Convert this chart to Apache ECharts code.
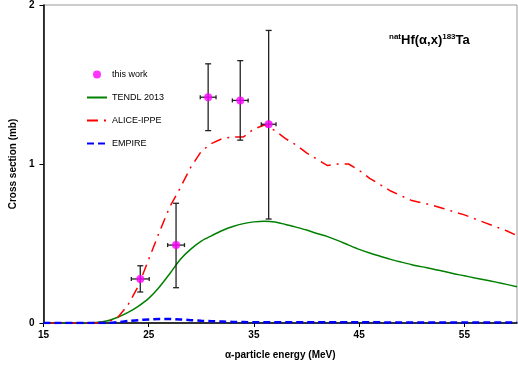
<!DOCTYPE html>
<html>
<head>
<meta charset="utf-8">
<script src="https://cdn.jsdelivr.net/npm/echarts@6/dist/echarts.min.js"></script>
<style>
  html, body { margin: 0; padding: 0; background: #fff; }
  #chart { width: 518px; height: 371px; }
</style>
</head>
<body>
<div id="chart"></div>
<script>
// energy grid for model curves (MeV)
var energies = [15,16,17,18,19,20,21,22,23,24,25,26,27,28,29,30,31,32,33,34,35,36,37,38,39,40,
                41,42,43,44,45,46,47,48,49,50,51,52,53,54,55,56,57,58,59,60];
var tendl = [0,0,0,0,0,0.003,0.012,0.035,0.065,0.105,0.155,0.225,0.31,0.40,0.465,0.515,0.55,0.582,0.607,0.625,0.636,0.64,
             0.635,0.62,0.603,0.585,0.563,0.543,0.518,0.49,0.463,0.44,0.42,0.40,0.383,0.367,0.353,0.34,0.325,0.31,0.297,0.283,0.27,0.257,0.243,0.228];
var alice = [0,0,0,0,0,0,0.005,0.03,0.11,0.23,0.40,0.57,0.73,0.85,0.98,1.08,1.13,1.16,1.17,1.17,1.22,1.245,
             1.21,1.16,1.12,1.07,1.03,0.99,1.0,1.0,0.96,0.91,0.87,0.83,0.80,0.77,0.755,0.74,0.72,0.70,0.68,0.655,0.63,0.605,0.58,0.55];
var empire = [0,0,0,0,0,0,0,0.005,0.012,0.018,0.022,0.025,0.025,0.022,0.018,0.014,0.011,0.009,0.007,0.006,0.005,0.005,
              0.005,0.004,0.004,0.004,0.004,0.004,0.004,0.004,0.004,0.004,0.004,0.003,0.003,0.003,0.003,0.003,0.003,0.003,0.003,0.003,0.003,0.003,0.003,0.003];

// measured points
var expE    = [24.2, 27.6, 30.65, 33.7, 36.4];
var expEerr = [0.85, 0.8, 0.75, 0.75, 0.7];
var expY    = [0.277, 0.49, 1.42, 1.40, 1.25];
var expLo   = [0.195, 0.222, 1.21, 1.15, 0.654];
var expHi   = [0.36, 0.753, 1.63, 1.65, 1.84];

var xTicks = [15, 25, 35, 45, 55];
var yTicks = [0, 1, 2];

function zip(a, b) { return a.map(function (v, i) { return [v, b[i]]; }); }

var errData = expE.map(function (e, i) { return [e, expY[i], expEerr[i], expLo[i], expHi[i]]; });

var chart = echarts.init(document.getElementById('chart'));
var bold = { fontFamily: 'Liberation Sans, Arial', fontWeight: 'bold', fontSize: 10, color: '#000' };
var noMarker = { opacity: 0 };

var option = {
  animation: false,
  textStyle: { fontFamily: 'Liberation Sans, Arial' },
  grid: { left: 40, right: 1, top: 5, bottom: 48, show: true, borderColor: '#999', borderWidth: 1 },
  title: {
    left: 384, top: 28,
    text: '{sup|nat}{m|Hf(α,x)}{sup|183}{m|Ta}',
    textStyle: {
      rich: {
        m: { fontFamily: 'Liberation Sans, Arial', fontSize: 13, fontWeight: 'bold', color: '#000' },
        sup: { fontFamily: 'Liberation Sans, Arial', fontSize: 8, fontWeight: 'bold', color: '#000', verticalAlign: 'top', padding: [0, 0, 7, 0] }
      }
    }
  },
  legend: {
    orient: 'vertical', left: 81, top: 65, itemWidth: 20, itemHeight: 8, itemGap: 14,
    data: [
      { name: 'this work', icon: 'circle' },
      { name: 'TENDL 2013', itemStyle: noMarker },
      { name: 'ALICE-IPPE', itemStyle: noMarker },
      { name: 'EMPIRE', itemStyle: noMarker }
    ],
    textStyle: { fontSize: 9, color: '#000' }
  },
  xAxis: {
    type: 'value', min: 15, max: 60, interval: 10,
    name: 'α-particle energy (MeV)', nameLocation: 'middle', nameGap: 27, nameTextStyle: bold,
    axisLine: { lineStyle: { color: '#000', width: 1.5 } },
    axisTick: { show: true, length: 4, lineStyle: { color: '#000' } },
    axisLabel: Object.assign({ showMaxLabel: false, margin: 7,
      formatter: function (v) { return xTicks.indexOf(v) >= 0 ? String(v) : ''; } }, bold),
    splitLine: { show: false }
  },
  yAxis: {
    type: 'value', min: 0, max: 2, interval: 1,
    name: 'Cross section (mb)', nameLocation: 'middle', nameGap: 22, nameTextStyle: bold,
    axisLine: { show: true, lineStyle: { color: '#000', width: 1.5 } },
    axisTick: { show: true, length: 4, lineStyle: { color: '#000' } },
    axisLabel: Object.assign({ margin: 9,
      formatter: function (v) { return yTicks.indexOf(v) >= 0 ? String(v) : ''; } }, bold),
    splitLine: { show: false }
  },
  series: [
    {
      name: 'TENDL 2013', type: 'line', symbol: 'none', smooth: 0.3,
      data: zip(energies, tendl),
      lineStyle: { color: '#008000', width: 1.5 }, itemStyle: { color: '#008000' }
    },
    {
      name: 'ALICE-IPPE', type: 'line', symbol: 'none',
      data: zip(energies, alice),
      lineStyle: { color: '#ff0000', width: 1.5, type: [11, 6, 2, 6] }, itemStyle: { color: '#ff0000' }
    },
    {
      name: 'EMPIRE', type: 'line', symbol: 'none', smooth: 0.3,
      data: zip(energies, empire),
      lineStyle: { color: '#0000ff', width: 2.5, type: [7, 4] }, itemStyle: { color: '#0000ff' }
    },
    {
      name: 'errors', type: 'custom', z: 5,
      data: errData,
      renderItem: function (params, api) {
        var e = api.value(0), y = api.value(1), de = api.value(2), lo = api.value(3), hi = api.value(4);
        var pL = api.coord([e - de, y]), pR = api.coord([e + de, y]);
        var pT = api.coord([e, hi]), pB = api.coord([e, lo]);
        var st = { stroke: '#222', lineWidth: 1.3 };
        function ln(x1, y1, x2, y2) { return { type: 'line', shape: { x1: x1, y1: y1, x2: x2, y2: y2 }, style: st }; }
        return { type: 'group', children: [
          ln(pT[0], pT[1], pB[0], pB[1]),
          ln(pT[0] - 3, pT[1], pT[0] + 3, pT[1]),
          ln(pB[0] - 3, pB[1], pB[0] + 3, pB[1]),
          ln(pL[0], pL[1], pR[0], pR[1]),
          ln(pL[0], pL[1] - 2, pL[0], pL[1] + 2),
          ln(pR[0], pR[1] - 2, pR[0], pR[1] + 2)
        ] };
      }
    },
    {
      name: 'this work', type: 'scatter', symbol: 'circle', symbolSize: 8, z: 6,
      data: zip(expE, expY),
      itemStyle: { color: '#ff00ff' }
    }
  ]
};
chart.setOption(option);
</script>
</body>
</html>
